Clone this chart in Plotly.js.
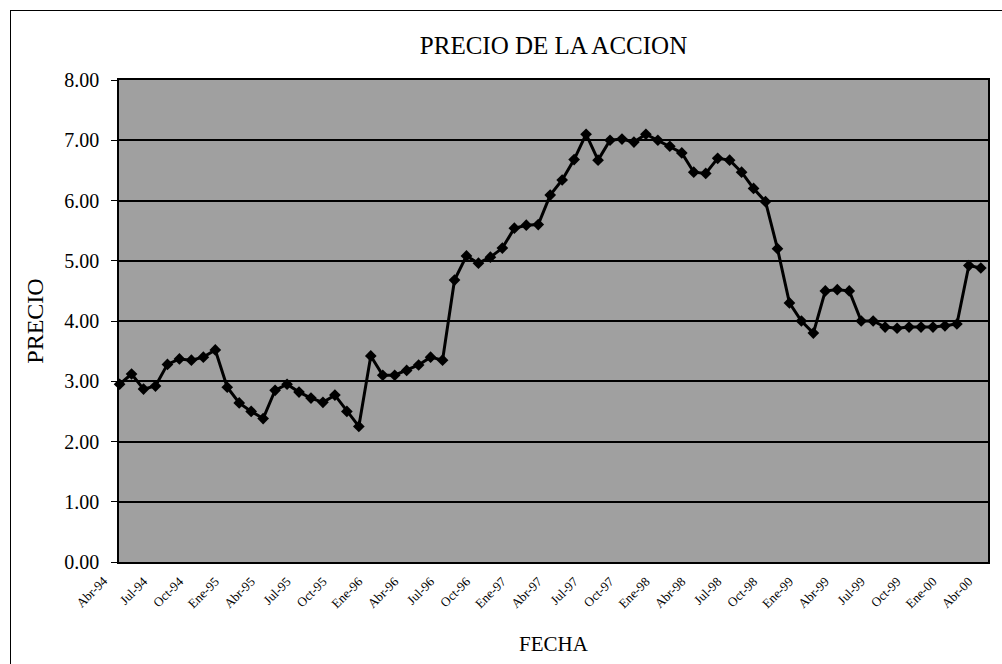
<!DOCTYPE html>
<html>
<head>
<meta charset="utf-8">
<script src="https://cdn.plot.ly/plotly-3.0.1.min.js"></script>
<style>
  html, body { margin:0; padding:0; background:#ffffff; }
  #marco { position:absolute; left:10px; top:10px; width:1000px; height:670px; border:1px solid #000; }
  #grafico { position:absolute; left:0; top:0; width:1002px; height:664px; }
</style>
</head>
<body>
<div id="marco"></div>
<div id="grafico"></div>
<script>
/* ==========================================
   DATOS
========================================== */

const meses = [
  "May-94","Jun-94","Jul-94","Ago-94","Sep-94","Oct-94","Nov-94","Dic-94",
  "Ene-95","Feb-95","Mar-95","Abr-95","May-95","Jun-95","Jul-95","Ago-95","Sep-95","Oct-95","Nov-95","Dic-95",
  "Ene-96","Feb-96","Mar-96","Abr-96","May-96","Jun-96","Jul-96","Ago-96","Sep-96","Oct-96","Nov-96","Dic-96",
  "Ene-97","Feb-97","Mar-97","Abr-97","May-97","Jun-97","Jul-97","Ago-97","Sep-97","Oct-97","Nov-97","Dic-97",
  "Ene-98","Feb-98","Mar-98","Abr-98","May-98","Jun-98","Jul-98","Ago-98","Sep-98","Oct-98","Nov-98","Dic-98",
  "Ene-99","Feb-99","Mar-99","Abr-99","May-99","Jun-99","Jul-99","Ago-99","Sep-99","Oct-99","Nov-99","Dic-99",
  "Ene-00","Feb-00","Mar-00","Abr-00","May-00"
];

const precio = [
  2.95, 3.12, 2.87, 2.92, 3.28, 3.37, 3.35, 3.40,
  3.52, 2.90, 2.64, 2.50, 2.38, 2.85, 2.95, 2.82, 2.72, 2.65, 2.77, 2.50, 2.25,
  3.42, 3.10, 3.10, 3.18, 3.27, 3.40, 3.35, 4.68, 5.08, 4.96, 5.06,
  5.21, 5.54, 5.59, 5.60, 6.09, 6.34, 6.68, 7.10, 6.67, 7.00, 7.02, 6.97,
  7.10, 7.00, 6.90, 6.79, 6.47, 6.45, 6.70, 6.67, 6.47, 6.20, 5.98, 5.20,
  4.30, 4.00, 3.80, 4.50, 4.52, 4.50, 4.00, 4.00, 3.90, 3.88, 3.90, 3.90,
  3.90, 3.92, 3.95, 4.92, 4.88
];

const etiquetas = [
  "Jul-94","Oct-94","Ene-95","Abr-95","Jul-95","Oct-95","Ene-96","Abr-96",
  "Jul-96","Oct-96","Ene-97","Abr-97","Jul-97","Oct-97","Ene-98","Abr-98",
  "Jul-98","Oct-98","Ene-99","Abr-99","Jul-99","Oct-99","Ene-00","Abr-00"
];

// la primera etiqueta cae antes del primer dato, fuera del area de trazado
const etiquetaInicial = "Abr-94";

const rangoX = [-0.05, 72.6];


/* ==========================================
   GRAFICO
========================================== */

function drawPrecio(){

    const fuente = "Liberation Serif, DejaVu Serif, serif";

    // posicion de Abr-94 (un mes antes del primer dato) en fraccion del eje
    const fraccionInicial = (-1 - rangoX[0]) / (rangoX[1] - rangoX[0]);

    Plotly.newPlot(

        "grafico",

        [
            {
                type:"scatter",
                mode:"lines+markers",
                x:meses,
                y:precio,
                line:{ color:"#000000", width:3 },
                marker:{ symbol:"diamond", size:9, color:"#000000" },
                cliponaxis:false,
                showlegend:false
            }
        ],

        {
            width:1002,
            height:664,
            paper_bgcolor:"rgba(0,0,0,0)",
            plot_bgcolor:"#a0a0a0",
            margin:{ l:119, r:14, t:80, b:102 },
            font:{ family:fuente, color:"#000000" },

            title:{
                text:"PRECIO DE LA ACCION",
                font:{ family:fuente, size:25, color:"#000000" },
                xref:"paper",
                x:0.5,
                xanchor:"center",
                y:0.932,
                yanchor:"middle"
            },

            xaxis:{
                type:"category",
                range:rangoX,
                tickmode:"array",
                tickvals:etiquetas,
                ticktext:etiquetas,
                tickangle:-45,
                tickfont:{ family:fuente, size:13 },
                ticks:"",
                ticklabelstandoff:5,
                showgrid:false,
                showline:true,
                linecolor:"#000000",
                linewidth:1.5,
                mirror:true,
                title:{
                    text:"FECHA",
                    font:{ family:fuente, size:21 },
                    standoff:26
                }
            },

            yaxis:{
                range:[0, 8],
                tickvals:[0,1,2,3,4,5,6,7,8],
                tickformat:".2f",
                tickfont:{ family:fuente, size:20 },
                ticks:"outside",
                ticklen:6,
                tickcolor:"#000000",
                ticklabelstandoff:8,
                showgrid:true,
                gridcolor:"#000000",
                gridwidth:1.5,
                zeroline:false,
                showline:true,
                linecolor:"#000000",
                linewidth:1.5,
                mirror:true,
                title:{
                    text:"PRECIO",
                    font:{ family:fuente, size:24 },
                    standoff:14
                }
            },

            annotations:[
                {
                    text:etiquetaInicial,
                    xref:"x domain",
                    yref:"y domain",
                    x:fraccionInicial,
                    y:0,
                    xanchor:"right",
                    yanchor:"top",
                    xshift:6,
                    yshift:-8,
                    textangle:-45,
                    showarrow:false,
                    font:{ family:fuente, size:13, color:"#000000" }
                }
            ]
        },

        {
            displayModeBar:false,
            responsive:false
        }
    );

}

drawPrecio();
</script>
</body>
</html>
